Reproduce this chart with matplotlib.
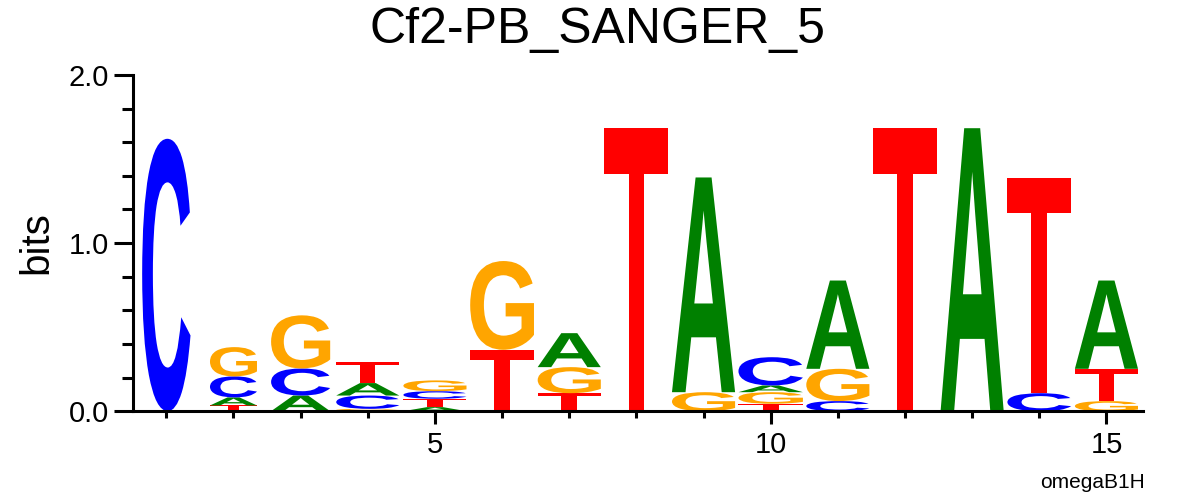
import matplotlib
matplotlib.use("Agg")
import matplotlib.pyplot as plt
from matplotlib.textpath import TextPath
from matplotlib.patches import PathPatch
from matplotlib.font_manager import FontProperties
from matplotlib.transforms import Affine2D
from matplotlib.ticker import MultipleLocator, FormatStrFormatter

# letters of each column, bottom to top, with their heights in bits
positions = list(range(1, 16))
letters = ["C", "TACG", "ACG", "GCAT", "ATCG", "TG", "TGA", "T",
           "GA", "TGAC", "CGA", "T", "A", "CT", "GTA"]
heights = [
    [1.62],
    [0.034, 0.048, 0.125, 0.174],
    [0.093, 0.161, 0.316],
    [0.014, 0.079, 0.074, 0.125],
    [0.024, 0.050, 0.045, 0.064],
    [0.365, 0.528],
    [0.107, 0.155, 0.202],
    [1.683],
    [0.113, 1.277],
    [0.044, 0.069, 0.040, 0.168],
    [0.060, 0.192, 0.525],
    [1.683],
    [1.683],
    [0.107, 1.278],
    [0.060, 0.192, 0.525],
]
# column widths (fraction of one position)
col_width = [0.72, 0.70, 0.88, 0.94, 0.94, 0.95, 0.94, 0.95,
             0.94, 0.96, 0.94, 0.95, 0.94, 0.95, 0.94]

colors = {"A": "#008000", "C": "#0000ff", "G": "#ffa500", "T": "#ff0000"}

font = FontProperties(family="Liberation Sans", weight="bold")
plt.rcParams["font.family"] = ["Liberation Sans", "DejaVu Sans"]


def draw_letter(ax, ch, xc, y0, w, h):
    tp = TextPath((0, 0), ch, size=1, prop=font)
    bb = tp.get_extents()
    tr = (Affine2D().translate(-bb.x0, -bb.y0)
          .scale(w / bb.width, h / bb.height)
          .translate(xc - w / 2, y0))
    ax.add_patch(PathPatch(tr.transform_path(tp), facecolor=colors[ch],
                           edgecolor="none", lw=0))


fig = plt.figure(figsize=(11.96, 4.96), dpi=100)
ax = fig.add_axes([0.111, 0.171, 0.845, 0.678])

for x, seq, hs, w in zip(positions, letters, heights, col_width):
    y = 0.0
    for ch, h in zip(seq, hs):
        draw_letter(ax, ch, x, y, w, h)
        y += h

ax.set_xlim(0.5, 15.55)
ax.set_ylim(0, 2.0)
for s in ["top", "right"]:
    ax.spines[s].set_visible(False)
for s in ["left", "bottom"]:
    ax.spines[s].set_linewidth(2.2)

ax.xaxis.set_major_locator(MultipleLocator(5))
ax.xaxis.set_minor_locator(MultipleLocator(1))
ax.yaxis.set_major_locator(MultipleLocator(1.0))
ax.yaxis.set_minor_locator(MultipleLocator(0.2))
ax.yaxis.set_major_formatter(FormatStrFormatter("%.1f"))

ax.tick_params(axis="y", which="major", length=14, width=2.2, labelsize=21, pad=3)
ax.tick_params(axis="y", which="minor", length=8, width=2.2)
ax.tick_params(axis="x", which="major", length=9, width=2.2, labelsize=21, pad=5)
ax.tick_params(axis="x", which="minor", length=5, width=2.2)

fig.text(0.03, 1 - 243 / 496, "bits", rotation=90, ha="center", va="center",
         fontsize=29)
fig.text(0.5, 1 - 43 / 496, "Cf2-PB_SANGER_5", ha="center", va="baseline",
         fontsize=36)
fig.text(0.957, 1 - 488 / 496, "omegaB1H", ha="right", va="baseline",
         fontsize=15)

fig.savefig("out.png", dpi=100)
